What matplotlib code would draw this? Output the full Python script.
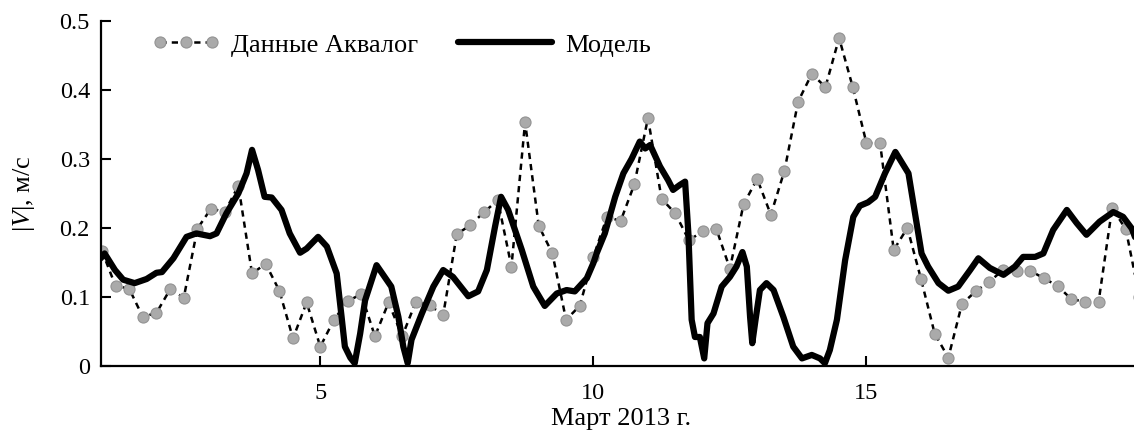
import numpy as np
import matplotlib
matplotlib.use('Agg')
import matplotlib.pyplot as plt

plt.rcParams['font.family'] = ['Liberation Serif', 'DejaVu Serif']
plt.rcParams['mathtext.fontset'] = 'custom'
plt.rcParams['mathtext.it'] = 'Liberation Serif:italic'
plt.rcParams['mathtext.rm'] = 'Liberation Serif'

# Данные Аквалог: шаг 6 часов, с 1 марта
obs_t = np.arange(77) * 0.25 + 1.0
obs_v = [0.167, 0.116, 0.112, 0.071, 0.077, 0.111, 0.099, 0.199, 0.228, 0.223,
         0.261, 0.134, 0.148, 0.109, 0.040, 0.092, 0.028, 0.067, 0.094, 0.104,
         0.043, 0.092, 0.043, 0.093, 0.088, 0.074, 0.191, 0.204, 0.223, 0.240,
         0.144, 0.353, 0.203, 0.163, 0.067, 0.087, 0.158, 0.216, 0.210, 0.263,
         0.359, 0.242, 0.221, 0.182, 0.195, 0.199, 0.141, 0.234, 0.271, 0.219,
         0.283, 0.383, 0.423, 0.404, 0.475, 0.404, 0.323, 0.323, 0.168, 0.200,
         0.126, 0.047, 0.012, 0.090, 0.108, 0.122, 0.139, 0.138, 0.138, 0.127,
         0.116, 0.097, 0.093, 0.092, 0.229, 0.198, 0.100]

# Модель
model_t = [0.98, 1.05, 1.24, 1.39, 1.60, 1.82, 2.00, 2.10, 2.31, 2.55, 2.73, 2.98,
           3.10, 3.28, 3.50, 3.65, 3.75, 3.86, 3.98, 4.11, 4.29, 4.44, 4.63, 4.75,
           4.96, 5.12, 5.30, 5.39, 5.45, 5.55, 5.63, 5.73, 5.82, 6.03, 6.30, 6.43,
           6.52, 6.60, 6.67, 6.86, 7.07, 7.25, 7.43, 7.71, 7.89, 8.05, 8.20, 8.31,
           8.44, 8.69, 8.90, 9.11, 9.33, 9.51, 9.66, 9.88, 10.00, 10.06, 10.21,
           10.40, 10.55, 10.70, 10.85, 10.95, 11.04, 11.22, 11.37, 11.46, 11.58,
           11.68, 11.74, 11.80, 11.86, 11.95, 12.03, 12.09, 12.20, 12.35, 12.50,
           12.62, 12.73, 12.81, 12.87, 12.91, 12.97, 13.05, 13.17, 13.30, 13.48,
           13.66, 13.82, 14.00, 14.15, 14.24, 14.33, 14.46, 14.61, 14.76, 14.88,
           15.03, 15.16, 15.34, 15.53, 15.77, 15.89, 16.01, 16.13, 16.32, 16.50,
           16.68, 16.90, 17.05, 17.26, 17.51, 17.72, 17.87, 18.09, 18.24, 18.42,
           18.67, 18.85, 19.03, 19.27, 19.52, 19.70, 19.86, 19.95]
model_v = [0.156, 0.163, 0.139, 0.125, 0.120, 0.126, 0.135, 0.136, 0.156, 0.187,
           0.192, 0.188, 0.192, 0.221, 0.250, 0.279, 0.313, 0.284, 0.245, 0.244,
           0.226, 0.192, 0.164, 0.170, 0.187, 0.173, 0.134, 0.071, 0.028, 0.012,
           0.004, 0.047, 0.095, 0.146, 0.115, 0.071, 0.028, 0.004, 0.038, 0.076,
           0.115, 0.139, 0.129, 0.101, 0.108, 0.139, 0.202, 0.245, 0.226, 0.168,
           0.115, 0.087, 0.105, 0.110, 0.108, 0.127, 0.149, 0.163, 0.192, 0.245,
           0.279, 0.300, 0.325, 0.315, 0.320, 0.289, 0.269, 0.255, 0.262, 0.267,
           0.192, 0.067, 0.042, 0.042, 0.011, 0.062, 0.076, 0.115, 0.129, 0.144,
           0.165, 0.144, 0.071, 0.033, 0.067, 0.110, 0.120, 0.110, 0.071, 0.028,
           0.011, 0.016, 0.011, 0.004, 0.023, 0.067, 0.153, 0.216, 0.232, 0.237,
           0.245, 0.279, 0.310, 0.279, 0.221, 0.163, 0.144, 0.120, 0.109, 0.115,
           0.139, 0.156, 0.142, 0.132, 0.144, 0.158, 0.158, 0.163, 0.197, 0.226,
           0.207, 0.190, 0.209, 0.223, 0.216, 0.199, 0.180]

x_ticks = [5, 10, 15]
y_ticks = [0, 0.1, 0.2, 0.3, 0.4, 0.5]
y_labels = ['0', '0.1', '0.2', '0.3', '0.4', '0.5']

fig = plt.figure(figsize=(11.34, 4.32), dpi=100)
ax = fig.add_axes([0.0891, 0.1528, 0.9109, 0.7992])

l_obs, = ax.plot(obs_t, obs_v, linestyle=(0, (2.5, 2)), color='black', lw=1.8,
                 marker='o', ms=8, mfc='#aaaaaa', mec='#939393', mew=0.8,
                 zorder=2)
l_mod, = ax.plot(model_t, model_v, color='black', lw=4.5, solid_joinstyle='round',
                 solid_capstyle='round', zorder=3)

ax.set_xlim(0.985, 19.9)
ax.set_ylim(0, 0.5)
ax.set_xticks(x_ticks)
ax.set_yticks(y_ticks)
ax.set_yticklabels(y_labels)
ax.tick_params(direction='in', length=7, width=1.5, labelsize=17.5)
ax.tick_params(axis='y', pad=8)
ax.tick_params(axis='x', pad=12)
for s in ['top', 'right']:
    ax.spines[s].set_visible(False)
for s in ['left', 'bottom']:
    ax.spines[s].set_linewidth(1.6)

ax.set_ylabel(r'|$V$|, м/с', fontsize=19)
ax.yaxis.set_label_coords(-0.062, 0.5)
ax.set_xlabel('Март 2013 г.', fontsize=19)
ax.xaxis.set_label_coords(0.503, -0.122)

leg1 = ax.legend([l_obs], ['Данные Аквалог'], loc='center left',
                 bbox_to_anchor=(0.049, 0.93), frameon=False, fontsize=19,
                 borderpad=0, borderaxespad=0, handlelength=2.6,
                 handletextpad=0.42, numpoints=3)
ax.add_artist(leg1)
ax.legend([l_mod], ['Модель'], loc='center left',
          bbox_to_anchor=(0.3456, 0.93), frameon=False, fontsize=19,
          borderpad=0, borderaxespad=0, handlelength=3.56, handletextpad=0.5)

fig.savefig('out.png', dpi=100)
